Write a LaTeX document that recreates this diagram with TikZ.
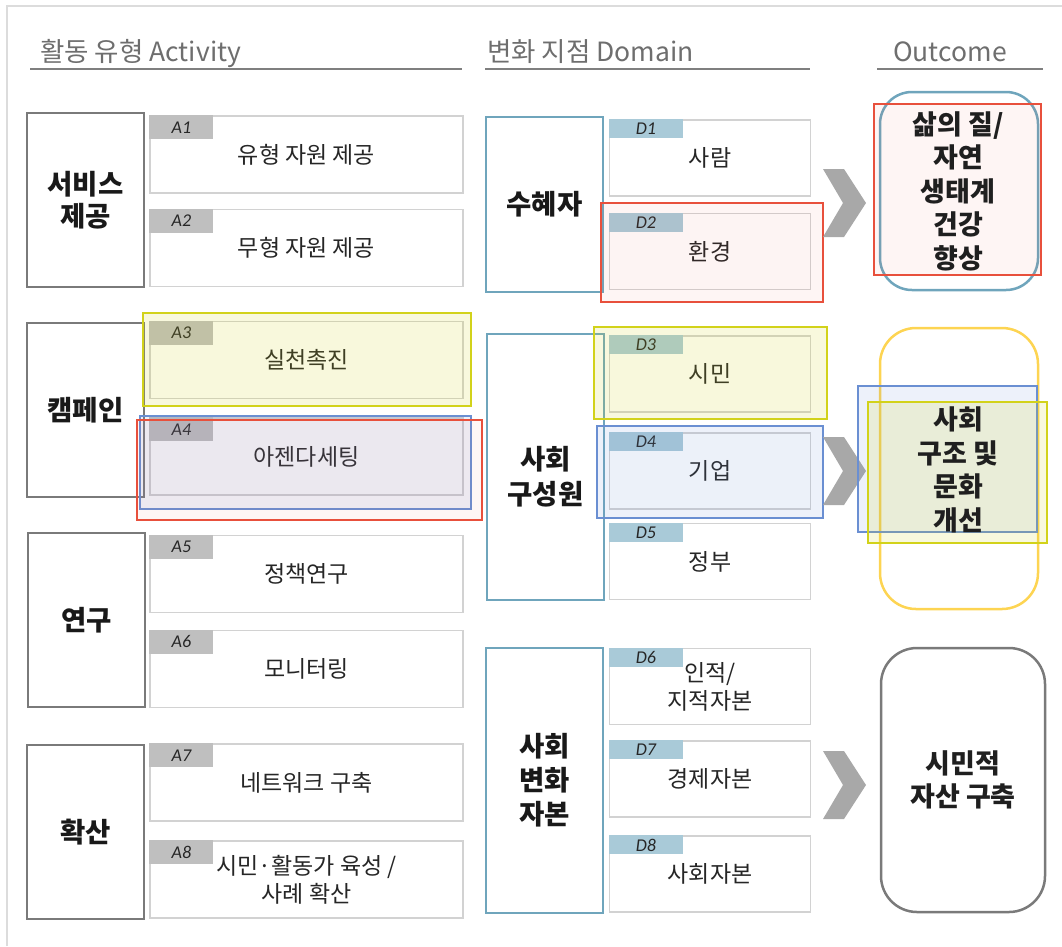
\documentclass[tikz,border=0pt]{standalone}
\usepackage{fontspec}
\setmainfont{Noto Sans CJK KR}
\newfontfamily\tagfont{Carlito}
\usepackage{xcolor}

\definecolor{framegray}{HTML}{DCDCDC}
\definecolor{hdrgray}{HTML}{6E6E6E}
\definecolor{rulegray}{HTML}{7F7F7F}
\definecolor{catgray}{HTML}{7A7A7A}
\definecolor{boxgray}{HTML}{D2D2D2}
\definecolor{taggray}{HTML}{BFBFBF}
\definecolor{tagblue}{HTML}{A9CAD8}
\definecolor{domblue}{HTML}{6FA5BC}
\definecolor{hlyellow}{HTML}{D2D21A}
\definecolor{hlblue}{HTML}{6A8FD2}
\definecolor{hlred}{HTML}{E8503C}
\definecolor{outyellow}{HTML}{FDD452}
\definecolor{chevgray}{HTML}{A8A8A8}

\tikzset{
  hdr/.style={anchor=base west, inner sep=0, text=hdrgray, font=\fontsize{26.5}{30}\selectfont},
  catbox/.style={draw=catgray, line width=2, minimum width=117, minimum height=174,
    align=center, text=black!90, font=\fontsize{27.5}{32}\selectfont\bfseries},
  dombox/.style={draw=domblue, line width=2, minimum width=117, align=center,
    text=black!90, font=\fontsize{27.5}{34}\selectfont\bfseries},
  cattext/.style={align=center, text=black!90, font=\fontsize{27.5}{35}\selectfont\bfseries},
  actbox/.style={draw=boxgray, line width=1.5, fill=white, minimum width=313, minimum height=77,
    align=center, text=black!85, font=\fontsize{23}{28}\selectfont},
  tagA/.style={fill=taggray, anchor=north west, inner sep=0, minimum width=64, minimum height=24,
    text=black!85, font=\tagfont\itshape\fontsize{18}{20}\selectfont},
  tagD/.style={tagA, fill=tagblue, minimum width=74, minimum height=19},
  hl/.style={draw=#1, line width=2.5, fill=#1, fill opacity=0.15},
  outbox/.style={draw=#1, line width=2.5, rounded corners=32},
  outtext/.style={align=center, text=black!88, font=\fontsize{27}{33.5}\selectfont\bfseries},
}

\begin{document}
\begin{tikzpicture}[x=1pt,y=-1pt]
\useasboundingbox (0,0) rectangle (1062,946);
\draw[framegray, line width=2] (7,946) -- (7,6) -- (1062,6);

% headers
\node[hdr] (hact) at (40,61) {활동 유형 Activity};
\node[hdr] (hdom) at (487,61) {변화 지점 Domain};
\node[hdr] (hout) at (893,61) {Outcome};
\draw[rulegray, line width=2] (30,69) -- (462,69);
\draw[rulegray, line width=2] (485,69) -- (810,69);
\draw[rulegray, line width=2] (877,69) -- (1043,69);

% activity types
\node[catbox] (c1) at (85.5,200) {서비스\\제공};
\node[catbox] (c2) at (85.5,410) {캠페인};
\node[catbox] (c3) at (86.5,620) {연구};
\node[catbox] (c4) at (85.5,832) {확산};
\foreach \n/\y/\txt in {1/154.5/유형 자원 제공, 2/248/무형 자원 제공, 3/360/실천촉진,
    4/456.5/아젠다세팅, 5/574/정책연구, 6/669/모니터링, 7/782.5/네트워크 구축,
    8/879.5/{시민·활동가 육성 /\\사례 확산}}
{
  \node[actbox] (a\n) at (306.5,\y) {\txt};
  \node[tagA] (ta\n) at (a\n.north west) {A\n};
}

% domains
\node[dombox, minimum height=175] (d1) at (544.5,204.5) {수혜자};
\node[dombox, minimum height=266] (d2) at (545.5,467) {};
\node[cattext] (d2t) at (545.5,477) {사회\\구성원};
\node[dombox, minimum height=265] (d3) at (544.5,780.5) {사회\\변화\\자본};
\foreach \n/\y/\txt in {1/158/사람, 2/251.5/환경, 3/374/시민, 4/471/기업, 5/561.5/정부,
    6/686.5/{인적/\\지적자본}, 7/779/경제자본, 8/874/사회자본}
{
  \node[actbox, minimum width=201, minimum height=76] (p\n) at (710,\y) {\txt};
  \node[tagD] (tp\n) at (p\n.north west) {D\n};
}

% highlights
\draw[hl=hlyellow] (143,313) rectangle (471,406);
\draw[hl=hlblue, fill opacity=0.12] (140,416) rectangle (471,509);
\draw[hl=hlred, fill opacity=0.05] (137,420) rectangle (482,520);
\draw[hl=hlred, fill opacity=0.06] (601,203) rectangle (823,302);
\draw[hl=hlyellow] (594,327) rectangle (827,419);
\draw[hl=hlblue, fill opacity=0.12] (597,426) rectangle (823,518);

% chevrons
\foreach \cy in {203,471,785}
  \fill[chevgray] (823,\cy-34) -- (844,\cy-34) -- (866,\cy) -- (844,\cy+34)
    -- (823,\cy+34) -- (843,\cy) -- cycle;

% outcomes
\node[outbox=domblue, minimum width=158, minimum height=198] (o1) at (959,191) {};
\draw[hl=hlred, fill opacity=0.06] (874,104) rectangle (1041,275);
\node[outtext] (o1t) at (958,191) {삶의 질/\\자연\\생태계\\건강\\향상};
\node[outbox=outyellow, minimum width=158, minimum height=281, rounded corners=36] (o2) at (959,468.5) {};
\draw[hl=hlblue, fill opacity=0.12] (858,386) rectangle (1037,532);
\draw[hl=hlyellow] (868,402) rectangle (1047,543);
\node[outtext] (o2t) at (958,470) {사회\\구조 및\\문화\\개선};
\node[outbox=catgray, minimum width=164, minimum height=264, rounded corners=36] (o3) at (963,780) {};
\node[outtext] (o3t) at (963,780) {시민적\\자산 구축};
\end{tikzpicture}
\end{document}
